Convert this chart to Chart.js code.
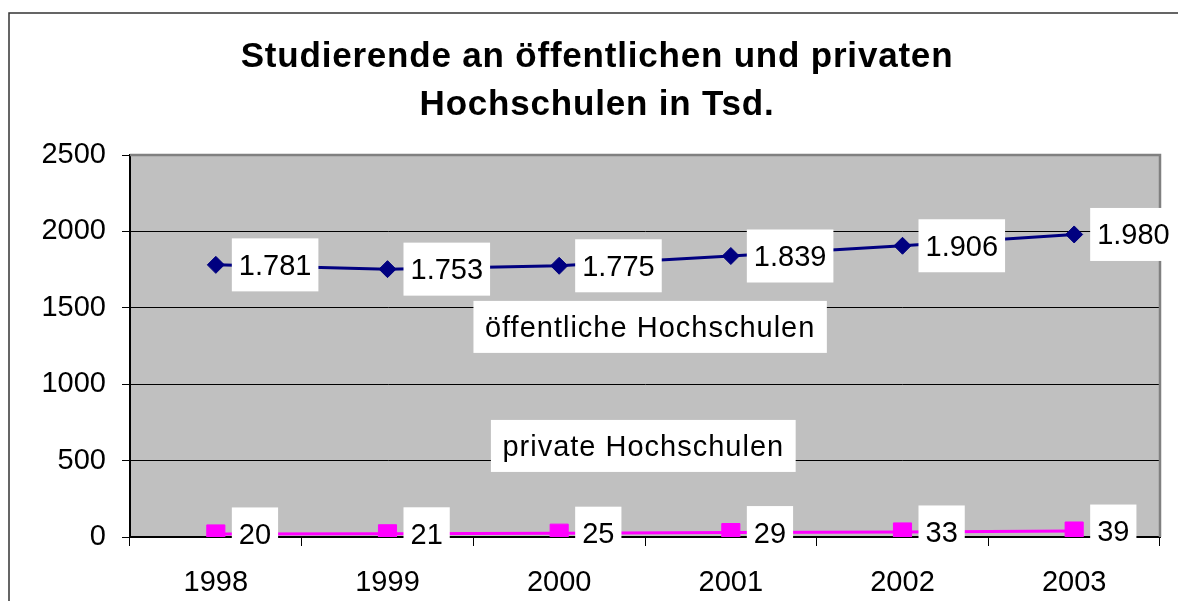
<!DOCTYPE html>
<html><head><meta charset="utf-8">
<script src="https://cdn.jsdelivr.net/npm/chart.js@4/dist/chart.umd.min.js"></script>
<style>html,body{margin:0;padding:0;background:#fff;overflow:hidden}#wrap{width:1178px;height:601px;position:relative}canvas{display:block}</style>
</head><body><div id="wrap"><canvas id="c" width="1178" height="601"></canvas></div>
<script>
const categories = ['1998', '1999', '2000', '2001', '2002', '2003'];
const publicValues = [1781, 1753, 1775, 1839, 1906, 1980];
const privateValues = [20, 21, 25, 29, 33, 39];
const yTicks = [0, 500, 1000, 1500, 2000, 2500];
const titleLines = ['Studierende an öffentlichen und privaten', 'Hochschulen in Tsd.'];
const seriesNames = ['öffentliche Hochschulen', 'private Hochschulen'];
const seriesNameAnchorX = [2.53, 2.49];   // category index where each name box is centred
const seriesNameAnchorY = [1375, 596];    // value where each name box is centred

const FONT = '"Liberation Sans", Arial, Helvetica, sans-serif';
const fmt = v => v >= 1000 ? Math.floor(v / 1000) + '.' + String(v % 1000).padStart(3, '0') : String(v);

const framePlugin = {
  id: 'frame',
  beforeDraw(chart) {
    const ctx = chart.ctx, a = chart.chartArea;
    ctx.save();
    ctx.fillStyle = '#fff';
    ctx.fillRect(0, 0, chart.width, chart.height);
    ctx.strokeStyle = '#333';
    ctx.lineWidth = 1.5;
    ctx.beginPath();
    ctx.moveTo(9, chart.height + 5);
    ctx.lineTo(9, 13);
    ctx.lineTo(chart.width + 5, 13);
    ctx.stroke();
    ctx.fillStyle = '#C0C0C0';
    ctx.fillRect(a.left, a.top, a.right - a.left, a.bottom - a.top);
    ctx.restore();
  },
  beforeDatasetsDraw(chart) {
    const ctx = chart.ctx, a = chart.chartArea;
    ctx.save();
    ctx.strokeStyle = '#808080';
    ctx.lineWidth = 2.5;
    ctx.beginPath();
    ctx.moveTo(a.left, a.top);
    ctx.lineTo(a.right, a.top);
    ctx.lineTo(a.right, a.bottom);
    ctx.stroke();
    ctx.restore();
  },
  afterDatasetsDraw(chart) {
    const ctx = chart.ctx;
    ctx.save();
    ctx.font = '29px ' + FONT;
    ctx.textBaseline = 'alphabetic';
    chart.data.datasets.forEach((ds, i) => {
      const meta = chart.getDatasetMeta(i);
      meta.data.forEach((pt, j) => {
        const txt = fmt(ds.data[j]);
        const w = ctx.measureText(txt).width + 14;
        const left = pt.x + 16;
        ctx.fillStyle = '#fff';
        ctx.fillRect(left, pt.y - 26.5, w, 53);
        ctx.fillStyle = '#000';
        ctx.fillText(txt, left + 7, pt.y + 10);
      });
    });
    const xs = chart.scales.x, ys = chart.scales.y;
    if ('letterSpacing' in ctx) ctx.letterSpacing = '1px';
    seriesNames.forEach((name, i) => {
      const cx = xs.getPixelForValue(seriesNameAnchorX[i]);
      const cy = ys.getPixelForValue(seriesNameAnchorY[i]);
      const tw = ctx.measureText(name).width;
      const w = tw + 23;
      ctx.fillStyle = '#fff';
      ctx.fillRect(cx - w / 2, cy - 26, w, 52);
      ctx.fillStyle = '#000';
      ctx.textAlign = 'left';
      ctx.fillText(name, cx - tw / 2, cy + 10);
    });
    ctx.restore();
  },
  afterDraw(chart) {
    const ctx = chart.ctx;
    ctx.save();
    ctx.font = 'bold 35px ' + FONT;
    if ('letterSpacing' in ctx) ctx.letterSpacing = '0.8px';
    ctx.fillStyle = '#000';
    ctx.textAlign = 'left';
    ctx.textBaseline = 'alphabetic';
    const w0 = ctx.measureText(titleLines[0]).width;
    const w1 = ctx.measureText(titleLines[1]).width;
    ctx.fillText(titleLines[0], 597 - w0 / 2, 66.5);
    ctx.fillText(titleLines[1], 597 - w1 / 2, 115);
    ctx.restore();
  }
};

new Chart(document.getElementById('c'), {
  type: 'line',
  data: {
    labels: categories,
    datasets: [
      {
        label: seriesNames[0], data: publicValues,
        borderColor: '#000080', backgroundColor: '#000080',
        pointBorderColor: '#000080', pointBackgroundColor: '#000080',
        borderWidth: 3, pointStyle: 'rectRot', pointRadius: 8.5, pointBorderWidth: 1,
        tension: 0, fill: false
      },
      {
        label: seriesNames[1], data: privateValues,
        borderColor: '#FF00FF', backgroundColor: '#FF00FF',
        pointBorderColor: '#FF00FF', pointBackgroundColor: '#FF00FF',
        borderWidth: 3, pointStyle: 'rect', pointRadius: 12.8, pointBorderWidth: 1,
        tension: 0, fill: false
      }
    ]
  },
  options: {
    responsive: false,
    animation: false,
    events: [],
    layout: { padding: { top: 155, right: 18, left: 0, bottom: 0 } },
    plugins: { legend: { display: false }, tooltip: { enabled: false }, title: { display: false } },
    scales: {
      x: {
        offset: true,
        grid: { offset: true, drawOnChartArea: false, drawTicks: true, tickLength: 9, color: '#000', tickColor: '#000' },
        border: { display: true, color: '#000', width: 2 },
        ticks: { font: { family: FONT, size: 29 }, color: '#000', padding: 20, maxRotation: 0, autoSkip: false },
        afterFit: s => { s.height = 64; }
      },
      y: {
        min: 0, max: 2500,
        afterBuildTicks: s => { s.ticks = yTicks.map(v => ({ value: v })); },
        grid: {
          color: c => (c.tick && c.tick.value === 2500) ? 'rgba(0,0,0,0)' : '#000',
          tickColor: '#000', lineWidth: 1, tickLength: 8, drawTicks: true
        },
        border: { display: true, color: '#000', width: 2 },
        ticks: { font: { family: FONT, size: 29 }, color: '#000', padding: 16, callback: v => String(v) },
        afterFit: s => { s.width = 130; }
      }
    }
  },
  plugins: [framePlugin]
});
</script>
</body></html>
